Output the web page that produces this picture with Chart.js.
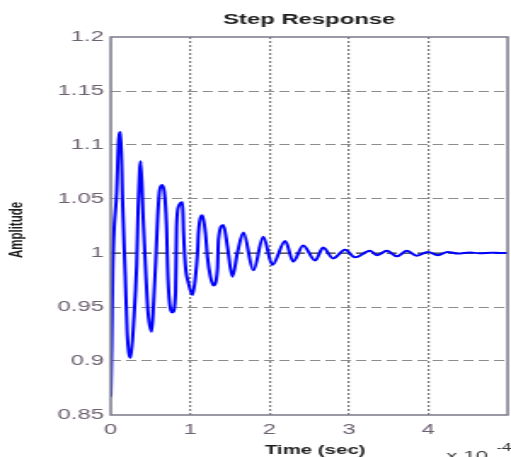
<!DOCTYPE html>
<html><head><meta charset="utf-8">
<script src="https://cdn.jsdelivr.net/npm/chart.js@4"></script>
<style>html,body{margin:0;padding:0;background:#fff;overflow:hidden}canvas{display:block}</style>
</head><body>
<canvas id="c" width="300" height="457" style="width:511px;height:457px"></canvas>
<script>
const titleText = 'Step Response';
const xAxisTitle = 'Time (sec)';
const yAxisTitle = 'Amplitude';
const xScaleBase = 'x 10';
const xScaleExponent = '-4';

// time in units of 1e-4 s
const timeValues = [0, 0.0126, 0.0251, 0.0754, 0.1005, 0.1256, 0.1508, 0.1822, 0.2073, 0.2513,
  0.2889, 0.3266, 0.3455, 0.3643, 0.3769, 0.4083, 0.4397, 0.4711, 0.5151, 0.5402,
  0.5653, 0.5905, 0.6156, 0.6470, 0.7035, 0.7161, 0.7349, 0.7789, 0.8166, 0.8291,
  0.8543, 0.9045, 0.9171, 0.9422, 0.9799, 1.0302, 1.0678, 1.0930, 1.1055, 1.1558,
  1.1935, 1.2186, 1.2563, 1.2940, 1.3442, 1.3568, 1.4196, 1.4698, 1.5327, 1.5955,
  1.6709, 1.7965, 1.9221, 2.0352, 2.1985, 2.2990, 2.4246, 2.5754, 2.6759, 2.8015,
  2.9523, 3.0779, 3.2663, 3.3543, 3.4799, 3.6055, 3.7312, 3.8568, 3.9950, 4.1206,
  4.2462, 4.3720, 4.5230, 4.6480, 4.7990, 4.8990, 5.0];
const amplitudeValues = [0.867, 0.915, 0.984, 1.057, 1.105, 1.112, 1.044, 0.980, 0.926, 0.903,
  0.936, 0.989, 1.043, 1.077, 1.085, 1.033, 0.984, 0.944, 0.927, 0.954,
  0.990, 1.032, 1.058, 1.063, 1.024, 0.987, 0.959, 0.945, 0.963, 1.023,
  1.043, 1.047, 1.019, 0.987, 0.972, 0.961, 0.978, 1.000, 1.019, 1.035,
  1.018, 0.996, 0.978, 0.970, 0.985, 1.012, 1.026, 1.006, 0.978, 1.000,
  1.019, 0.984, 1.015, 0.989, 1.011, 0.992, 1.007, 0.993, 1.005, 0.995,
  1.003, 0.996, 1.002, 0.998, 1.002, 0.997, 1.002, 0.9975, 1.001, 0.998,
  1.001, 0.9995, 1.0005, 0.9997, 1.0003, 1.0, 1.0];
const steadyTime = [0, 5];
const steadyValue = [1, 1];

const xTickValues = [0, 1, 2, 3, 4, 5];
const xTickLabels = ['0', '1', '2', '3', '4', ''];
const yTickValues = [0.85, 0.9, 0.95, 1, 1.05, 1.1, 1.15, 1.2];
const yTickLabels = ['0.85', '0.9', '0.95', '1', '1.05', '1.1', '1.15', '1.2'];

const FONT = '"Liberation Sans", Arial, Helvetica, sans-serif';

function toPoints(xs, ys) { return xs.map((x, i) => ({x: x, y: ys[i]})); }
function near(a, b) { return Math.abs(a - b) < 1e-6; }

const annotatePlugin = {
  id: 'annotate',
  beforeDraw(chart) {
    const ctx = chart.ctx;
    ctx.save();
    ctx.fillStyle = '#ffffff';
    ctx.fillRect(0, 0, chart.width, chart.height);
    ctx.restore();
  },
  afterDraw(chart) {
    const ctx = chart.ctx;
    const a = chart.chartArea;
    ctx.save();
    // frame
    ctx.strokeStyle = '#7a7a8a';
    ctx.lineWidth = 1.5;
    ctx.setLineDash([]);
    ctx.strokeRect(a.left, a.top, a.right - a.left, a.bottom - a.top);
    // title
    ctx.fillStyle = '#1e1e1e';
    ctx.font = 'bold 14px ' + FONT;
    ctx.textAlign = 'center';
    ctx.textBaseline = 'alphabetic';
    ctx.fillText(titleText, (a.left + a.right) / 2, 24);
    // x title
    ctx.font = 'bold 12px ' + FONT;
    ctx.fillText(xAxisTitle, (a.left + a.right) / 2 + 3.5, 454);
    // y title
    ctx.save();
    ctx.translate(10, 230);
    ctx.rotate(-Math.PI / 2);
    ctx.textBaseline = 'middle';
    ctx.font = 'bold 11.5px ' + FONT;
    ctx.fillText(yAxisTitle, 0, 0);
    ctx.restore();
    // exponent
    ctx.textAlign = 'left';
    ctx.fillStyle = '#3a3a3a';
    ctx.font = '13px ' + FONT;
    ctx.fillText(xScaleBase, 262, 459.5);
    ctx.font = '10px ' + FONT;
    ctx.fillText(xScaleExponent, 291.5, 450.5);
    ctx.restore();
  }
};

new Chart(document.getElementById('c'), {
  type: 'line',
  data: {
    datasets: [
      {
        label: 'Step response',
        data: toPoints(timeValues, amplitudeValues),
        borderColor: '#0000ff',
        borderWidth: 2,
        pointRadius: 0,
        fill: false,
        cubicInterpolationMode: 'monotone',
        order: 1
      },
      {
        label: 'Steady state',
        data: toPoints(steadyTime, steadyValue),
        borderColor: '#333333',
        borderWidth: 1,
        borderDash: [6, 3],
        pointRadius: 0,
        fill: false,
        order: 2
      }
    ]
  },
  options: {
    responsive: false,
    animation: false,
    devicePixelRatio: 1,
    layout: { padding: { top: 37, right: 2, bottom: 0, left: 0 } },
    plugins: { legend: { display: false }, tooltip: { enabled: false }, title: { display: false } },
    scales: {
      x: {
        type: 'linear',
        min: 0, max: 5,
        afterBuildTicks(scale) { scale.ticks = xTickValues.map(v => ({value: v})); },
        afterFit(scale) { scale.height = 42; scale.paddingRight = 0; scale.paddingLeft = 0; },
        ticks: {
          autoSkip: false,
          maxRotation: 0,
          padding: 7,
          color: '#6e6272',
          font: { family: FONT, size: 14 },
          callback: (v) => { const i = xTickValues.findIndex(t => near(t, v)); return i >= 0 ? xTickLabels[i] : ''; }
        },
        grid: {
          drawTicks: false,
          lineWidth: 1.2,
          color: (c) => (c.tick && (near(c.tick.value, 0) || near(c.tick.value, 5))) ? 'rgba(0,0,0,0)' : '#7c7c7c'
        },
        border: { display: false, dash: [2, 2] }
      },
      y: {
        type: 'linear',
        min: 0.85, max: 1.2,
        afterBuildTicks(scale) { scale.ticks = yTickValues.map(v => ({value: v})); },
        afterFit(scale) { scale.width = 65; scale.paddingTop = 0; scale.paddingBottom = 0; },
        ticks: {
          autoSkip: false,
          padding: 4,
          color: '#6e6272',
          font: { family: FONT, size: 14 },
          callback: (v) => { const i = yTickValues.findIndex(t => near(t, v)); return i >= 0 ? yTickLabels[i] : ''; }
        },
        grid: {
          drawTicks: false,
          lineWidth: 1,
          color: (c) => (c.tick && (near(c.tick.value, 0.85) || near(c.tick.value, 1.2))) ? 'rgba(0,0,0,0)' : '#8c8c8c'
        },
        border: { display: false, dash: [6, 3] }
      }
    }
  },
  plugins: [annotatePlugin]
});
</script>
</body></html>
